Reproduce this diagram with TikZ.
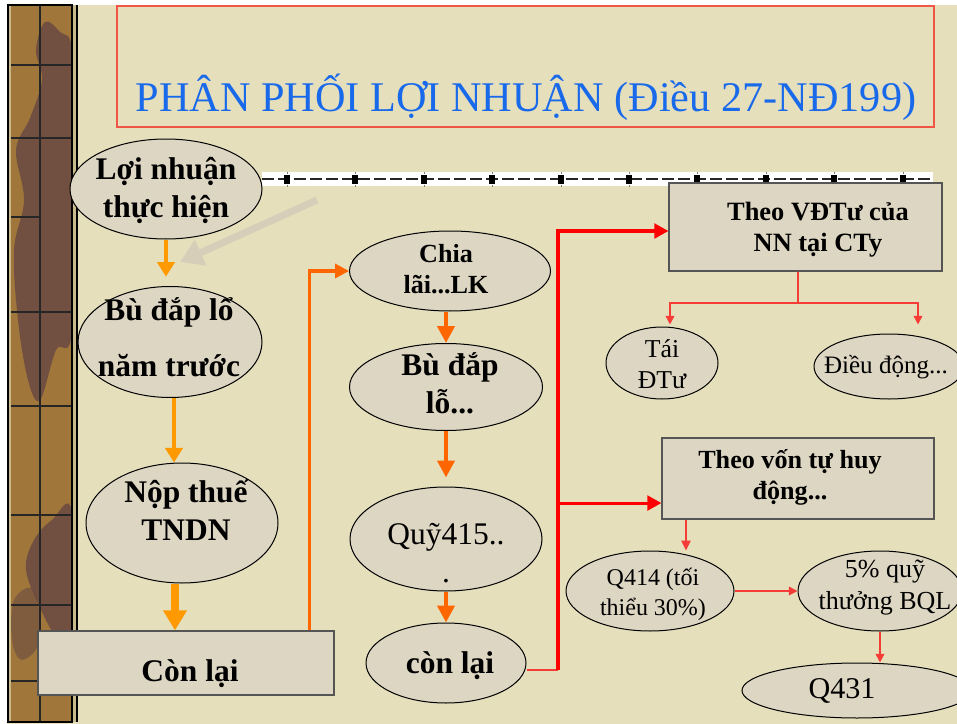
\documentclass[tikz,border=0pt]{standalone}
\usepackage{fontspec}
\setmainfont{Liberation Serif}
\usetikzlibrary{arrows.meta,shapes.geometric}

\definecolor{paper}{RGB}{229,223,188}
\definecolor{shapefill}{RGB}{221,214,195}
\definecolor{boxedge}{RGB}{85,85,85}
\definecolor{amber}{RGB}{255,153,0}
\definecolor{tangerine}{RGB}{255,102,0}
\definecolor{linkred}{RGB}{255,0,0}
\definecolor{softred}{RGB}{245,60,55}
\definecolor{titleblue}{RGB}{25,105,235}
\definecolor{titleframe}{RGB}{240,85,70}
\definecolor{barkbase}{RGB}{160,118,58}
\definecolor{barkdark}{RGB}{108,76,66}
\definecolor{barklight}{RGB}{200,185,140}
\definecolor{ghost}{RGB}{214,206,184}

\begin{document}
\begin{tikzpicture}[x=0.75pt,y=-0.75pt,
  ell/.style={ellipse,draw=black,line width=0.75pt,fill=shapefill,inner sep=0pt},
  panel/.style={rectangle,draw=boxedge,line width=0.9pt,fill=shapefill,inner sep=0pt},
  lbl/.style={align=center,inner sep=0pt,text=black},
  amberarrow/.style={draw=amber,line width=3.2pt,-{Triangle[length=11pt,width=13pt]}},
  amberheavy/.style={draw=amber,line width=5.3pt,-{Triangle[length=15pt,width=17pt]}},
  tanline/.style={draw=tangerine,line width=2.5pt,-{Triangle[length=10.5pt,width=10.5pt]}},
  tanarrow/.style={draw=tangerine,line width=3.5pt,-{Triangle[length=12.75pt,width=12.75pt]}},
  redarrow/.style={draw=linkred,line width=2.3pt,-{Triangle[length=10.5pt,width=11pt]}},
  softline/.style={draw=softred,line width=1.2pt},
  softarrow/.style={draw=softred,line width=1.2pt,-{Triangle[length=6.5pt,width=6.5pt]}}
]
\clip (0,0) rectangle (957,724);

% paper background with white margins
\fill[white] (0,0) rectangle (957,724);
\fill[paper] (7,5) rectangle (957,724);

% decorative bark strip on the left
\fill[barkbase] (8,5) rectangle (72,722);
\fill[barkdark,opacity=0.9] plot[smooth cycle,tension=0.6] coordinates
  {(45,22) (60,32) (72,50) (72,150) (72,330) (56,350) (40,400) (28,380) (18,320) (14,250) (24,200) (16,150) (30,118) (42,80) (36,50)};
\fill[barkdark,opacity=0.9] plot[smooth cycle,tension=0.6] coordinates
  {(52,520) (72,512) (72,650) (58,640) (42,612) (26,570) (34,540)};
\fill[barkdark,opacity=0.6] plot[smooth cycle,tension=0.6] coordinates
  {(14,600) (34,590) (40,640) (22,660) (12,640)};
\fill[barklight] (8,5) rectangle (11,722);
\fill[barklight] (72,5) rectangle (77,722);
\draw[black!85,line width=0.8pt] (40,5) -- (40,722);
\foreach \yy in {65,138,312,406,515,605}
  \draw[black!85,line width=0.8pt] (11,\yy) -- (72,\yy);
\foreach \yy in {217,681}
  \draw[black!85,line width=0.8pt] (11,\yy) -- (40,\yy);
\draw[black,line width=0.9pt] (8,5) rectangle (72,722);
\draw[black,line width=0.9pt] (77,5) -- (77,722);

% title frame and title
\node[rectangle,draw=titleframe,line width=0.9pt,minimum width=612.75pt,minimum height=90.75pt,inner sep=0pt]
  (titlebox) at (525.5,66.5) {};
\node[anchor=base,text=titleblue,inner sep=0pt,font=\fontsize{31.7}{38}\selectfont]
  (title) at (526,112) {PHÂN PHỐI LỢI NHUẬN (Điều 27-NĐ199)};

% ruler band with square markers
\fill[white] (262,172) rectangle (933,186);
\draw[black!85,line width=1.4pt,dash pattern=on 9pt off 3pt] (262,179) -- (933,179);
\foreach \xx in {287,355,424,492,561,629,697,766,834,903} {
  \fill[black] (\xx-3,174.5) rectangle (\xx+3,183.5);
  \draw[gray,line width=0.5pt] (\xx,171.5) -- (\xx,173.5) (\xx,184.5) -- (\xx,186.5);
}

% faint arrow behind the first column
\coordinate (ghostA) at (317,200);
\coordinate (ghostB) at (180,262);
\draw[ghost,line width=5.25pt,-{Triangle[length=17pt,width=20pt]}] (ghostA) -- (ghostB);

% left column
\node[ell,minimum width=144pt,minimum height=75pt] (lnth) at (166,189) {};
\node[ell,minimum width=138pt,minimum height=83.25pt] (bu1) at (170,342) {};
\node[ell,minimum width=144pt,minimum height=90pt] (nop) at (182,523) {};
\node[panel,minimum width=222pt,minimum height=48pt] (conlai) at (186,663) {};

% middle column
\node[ell,minimum width=150.75pt,minimum height=60pt] (chia) at (450,271) {};
\node[ell,minimum width=144.75pt,minimum height=65.25pt] (bu2) at (446,387) {};
\node[ell,minimum width=144pt,minimum height=78pt] (quy) at (446,539) {};
\node[ell,minimum width=120pt,minimum height=60pt] (con) at (446,663) {};

% right column
\node[panel,minimum width=204.75pt,minimum height=66pt] (theo1) at (805.5,227) {};
\node[ell,minimum width=84pt,minimum height=54pt] (tai) at (662,363) {};
\node[ell,minimum width=112.5pt,minimum height=48.75pt] (dieu) at (889,366.5) {};
\node[panel,minimum width=204pt,minimum height=60.75pt] (theo2) at (798,478.5) {};
\node[ell,minimum width=126pt,minimum height=60pt] (q414) at (650,591) {};
\node[ell,minimum width=123pt,minimum height=60pt] (bql) at (880,591) {};
\node[ell,minimum width=172.5pt,minimum height=41.25pt] (q431) at (857,690.5) {};

% labels
\node[lbl,font=\fontsize{23.6}{28.5}\selectfont\bfseries] (lnth-t) at (166,190) {Lợi nhuận\\thực hiện};
\node[lbl,font=\fontsize{23.6}{42}\selectfont\bfseries] (bu1-t) at (169,337) {Bù đắp lổ\\năm trước};
\node[lbl,font=\fontsize{23.6}{28.5}\selectfont\bfseries] (nop-t) at (186,510) {Nộp thuế\\TNDN};
\node[lbl,anchor=base,font=\fontsize{23.6}{28.5}\selectfont\bfseries] (conlai-t) at (190,681) {Còn lại};
\node[lbl,font=\fontsize{19.6}{23.25}\selectfont\bfseries] (chia-t) at (446,269) {Chia\\lãi...LK};
\node[lbl,font=\fontsize{23.6}{28.5}\selectfont\bfseries] (bu2-t) at (450,383) {Bù đắp\\lỗ...};
\node[lbl,font=\fontsize{23.6}{28.5}\selectfont] (quy-t) at (446,553) {Quỹ415..\\.};
\node[lbl,anchor=base,font=\fontsize{23.6}{28.5}\selectfont\bfseries] (con-t) at (450,673) {còn lại};
\node[lbl,font=\fontsize{19.8}{23.25}\selectfont\bfseries] (theo1-t) at (818,230) {Theo VĐTư của\\NN tại CTy};
\node[lbl,font=\fontsize{19.3}{23.25}\selectfont] (tai-t) at (662,364) {Tái\\ĐTư};
\node[lbl,anchor=base,font=\fontsize{18.8}{23}\selectfont] (dieu-t) at (886,373) {Điều động...};
\node[lbl,font=\fontsize{19.6}{23.25}\selectfont\bfseries] (theo2-t) at (790,477) {Theo vốn tự huy\\động...};
\node[lbl,font=\fontsize{18}{22.5}\selectfont] (q414-t) at (653,594) {Q414 (tối\\thiểu 30\%)};
\node[lbl,font=\fontsize{19.5}{24}\selectfont] (bql-t) at (885,588) {5\% quỹ\\thưởng BQL};
\node[lbl,anchor=base,font=\fontsize{22.6}{27}\selectfont] (q431-t) at (842,698) {Q431};

% left column flow
\draw[amberarrow,shorten >=7pt] (lnth.south) -- (lnth.south |- bu1.north);
\draw[amberarrow] ([xshift=3pt]bu1.south) -- ([xshift=3pt]bu1.south |- nop.north);
\draw[amberheavy] ([xshift=-5.25pt]nop.south) -- ([xshift=-5.25pt]nop.south |- conlai.north);

% middle column flow
\draw[tanline] ([xshift=-18.75pt]conlai.north east) |- (chia.west);
\draw[tanarrow] (bu2.north |- chia.south) -- (bu2.north);
\draw[tanarrow,shorten >=6.75pt] (bu2.south) -- (quy.north);
\draw[tanarrow] (quy.south) -- (con.north);

% distribution of the remainder
\coordinate (spine) at (558,670);
\coordinate (t1in) at ([yshift=-3pt]theo1.west);
\coordinate (t2in) at ([yshift=-18.4pt]theo2.west);
\draw[softline] ([yshift=-5.25pt]con.east) -- (spine);
\draw[redarrow] (spine) |- (t1in);
\draw[redarrow] (spine |- t2in) -- (t2in);

% state capital branch
\coordinate (tsplit) at (798,303);
\draw[softline] ([xshift=-5.6pt]theo1.south) -- (tsplit);
\draw[softarrow,shorten >=1.5pt] (tsplit) -| ([xshift=6pt]tai.north);
\draw[softarrow,shorten >=6.75pt] (tsplit) -| ([xshift=21.75pt]dieu.north);

% own capital branch
\draw[softarrow,-{Triangle[length=7.5pt,width=7pt]}] ([xshift=-84pt]theo2.south) -- ([xshift=-84pt]theo2.south |- q414.north);
\draw[softarrow] (q414.east) -- (bql.west);
\draw[softarrow] (bql.south) -- (bql.south |- q431.north);
\end{tikzpicture}
\end{document}
